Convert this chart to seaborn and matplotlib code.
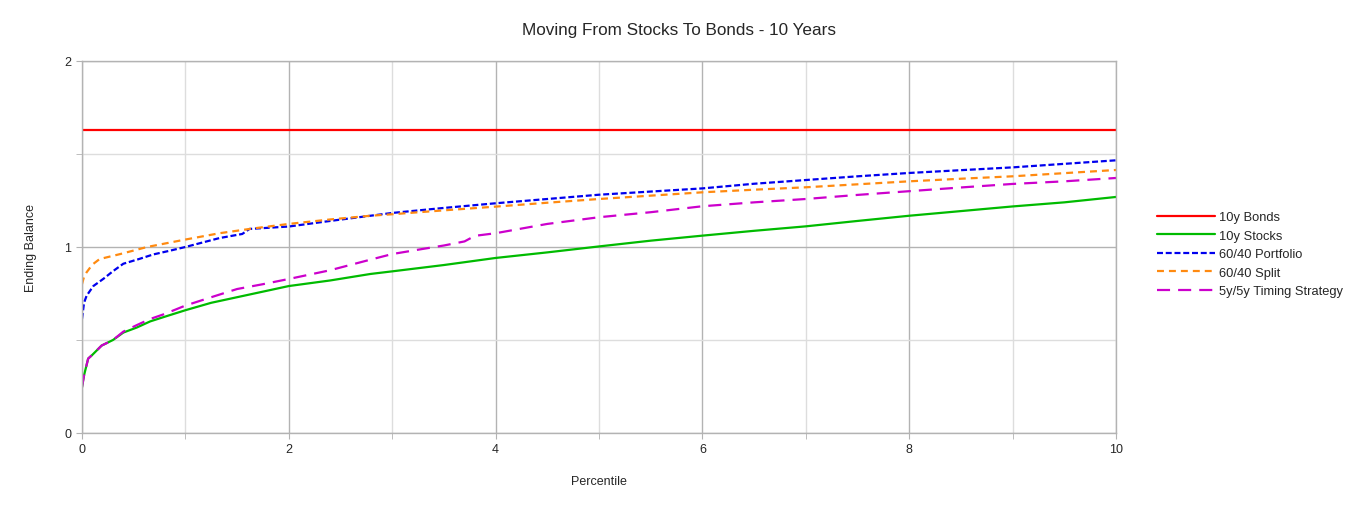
import numpy as np
import pandas as pd
import seaborn as sns
import matplotlib
matplotlib.use('Agg')
from matplotlib import pyplot as plt
from matplotlib.ticker import MultipleLocator

# values (percentile -> ending balance)
bonds_x = [0, 10]
bonds_y = [1.629, 1.629]

stocks_x = [0, 0.02, 0.06, 0.1, 0.19, 0.3, 0.4, 0.53, 0.66, 0.8, 1.0, 1.25, 1.5, 1.75, 2.0, 2.4, 2.79,
            3.0, 3.5, 4, 4.5, 5, 5.5, 6, 6.5, 7, 7.5, 8, 8.5, 9, 9.5, 10]
stocks_y = [0.245, 0.31, 0.40, 0.42, 0.47, 0.50, 0.54, 0.567, 0.60, 0.625, 0.66, 0.70, 0.73, 0.76, 0.79, 0.82, 0.855,
            0.869, 0.903, 0.941, 0.971, 1.003, 1.034, 1.061, 1.087, 1.111, 1.14, 1.168, 1.193, 1.218, 1.24, 1.269]

portfolio_x = [0, 0.02, 0.045, 0.11, 0.21, 0.3, 0.4, 0.55, 0.69, 0.85, 1.0, 1.33, 1.55, 1.62, 2.0, 2.4, 2.79,
               3, 3.5, 4, 4.5, 5, 5.5, 6, 6.5, 7, 7.5, 8, 8.5, 9, 9.5, 10]
portfolio_y = [0.613, 0.70, 0.738, 0.79, 0.83, 0.87, 0.91, 0.935, 0.96, 0.98, 1.0, 1.048, 1.07, 1.097, 1.11, 1.14, 1.168,
               1.183, 1.21, 1.235, 1.258, 1.281, 1.298, 1.315, 1.34, 1.36, 1.38, 1.398, 1.413, 1.428, 1.447, 1.466]

split_x = [0, 0.02, 0.045, 0.1, 0.17, 0.37, 0.63, 1.0, 1.33, 1.66, 2.0, 2.4, 2.79,
           3, 3.5, 4, 4.5, 5, 5.5, 6, 6.5, 7, 7.5, 8, 8.5, 9, 9.5, 10]
split_y = [0.80, 0.84, 0.864, 0.905, 0.935, 0.962, 1.0, 1.04, 1.074, 1.10, 1.124, 1.148, 1.168,
           1.176, 1.197, 1.217, 1.238, 1.258, 1.276, 1.294, 1.308, 1.321, 1.337, 1.353, 1.367, 1.38, 1.397, 1.414]

timing_x = [0, 0.02, 0.06, 0.1, 0.19, 0.3, 0.4, 0.53, 0.66, 0.8, 1.0, 1.25, 1.5, 1.75, 2.0, 2.4, 2.79,
            3.0, 3.3, 3.5, 3.7, 3.8, 4, 4.5, 5, 5.5, 6, 6.5, 7, 7.5, 8, 8.5, 9, 9.5, 10]
timing_y = [0.245, 0.31, 0.40, 0.42, 0.47, 0.50, 0.545, 0.58, 0.613, 0.64, 0.685, 0.73, 0.774, 0.80, 0.828, 0.875, 0.932,
            0.962, 0.99, 1.008, 1.03, 1.06, 1.074, 1.124, 1.16, 1.187, 1.219, 1.24, 1.258, 1.28, 1.3, 1.32, 1.339, 1.353, 1.371]

series_names = ['10y Bonds', '10y Stocks', '60/40 Portfolio', '60/40 Split', '5y/5y Timing Strategy']
colors = ['#ff0000', '#00bb00', '#0000ee', '#ff8a10', '#cc00cc']

frames = []
for name, xs, ys in zip(series_names,
                        [bonds_x, stocks_x, portfolio_x, split_x, timing_x],
                        [bonds_y, stocks_y, portfolio_y, split_y, timing_y]):
    frames.append(pd.DataFrame({'Percentile': xs, 'Ending Balance': ys, 'series': name}))
df = pd.concat(frames, ignore_index=True)

sns.set_style('white')
plt.rcParams['font.family'] = ['Liberation Sans', 'DejaVu Sans']
plt.rcParams['lines.scale_dashes'] = False

fig = plt.figure(figsize=(13.57, 5.06), dpi=100)
ax = fig.add_axes([0.0604, 0.1423, 0.762, 0.7352])

dashes = {
    '10y Bonds': '',
    '10y Stocks': '',
    '60/40 Portfolio': (4.3, 2.0),
    '60/40 Split': (5.0, 3.6),
    '5y/5y Timing Strategy': (9.4, 5.8),
}
sns.lineplot(data=df, x='Percentile', y='Ending Balance', hue='series', style='series',
             hue_order=series_names, style_order=series_names,
             palette=dict(zip(series_names, colors)), dashes=dashes,
             estimator=None, sort=True, linewidth=1.6, ax=ax)

ax.set_xlim(0, 10)
ax.set_ylim(0, 2)
ax.xaxis.set_major_locator(MultipleLocator(2))
ax.xaxis.set_minor_locator(MultipleLocator(1))
ax.yaxis.set_major_locator(MultipleLocator(1))
ax.yaxis.set_minor_locator(MultipleLocator(0.5))
ax.grid(which='major', color='#b3b3b3', linewidth=1.0)
ax.grid(which='minor', color='#dddddd', linewidth=1.0)
ax.set_axisbelow(True)
ax.tick_params(which='both', direction='out', length=4, color='#b3b3b3', labelsize=9, bottom=True, left=True)
for s in ax.spines.values():
    s.set_color('#b3b3b3')
    s.set_linewidth(1.0)

ax.set_xlabel('Percentile', fontsize=9, labelpad=14)
ax.set_ylabel('Ending Balance', fontsize=9, labelpad=20)
# title is centred on the whole figure, not on the axes
fig.text(0.5, 1 - 30 / 506, 'Moving From Stocks To Bonds - 10 Years', fontsize=12.3, ha='center', va='center')

leg = ax.legend(loc='center left', bbox_to_anchor=(1.028, 0.48), frameon=False, fontsize=9.3,
                handlelength=4.5, handletextpad=0.3, labelspacing=0.5)

fig.savefig('out.png', dpi=100)
